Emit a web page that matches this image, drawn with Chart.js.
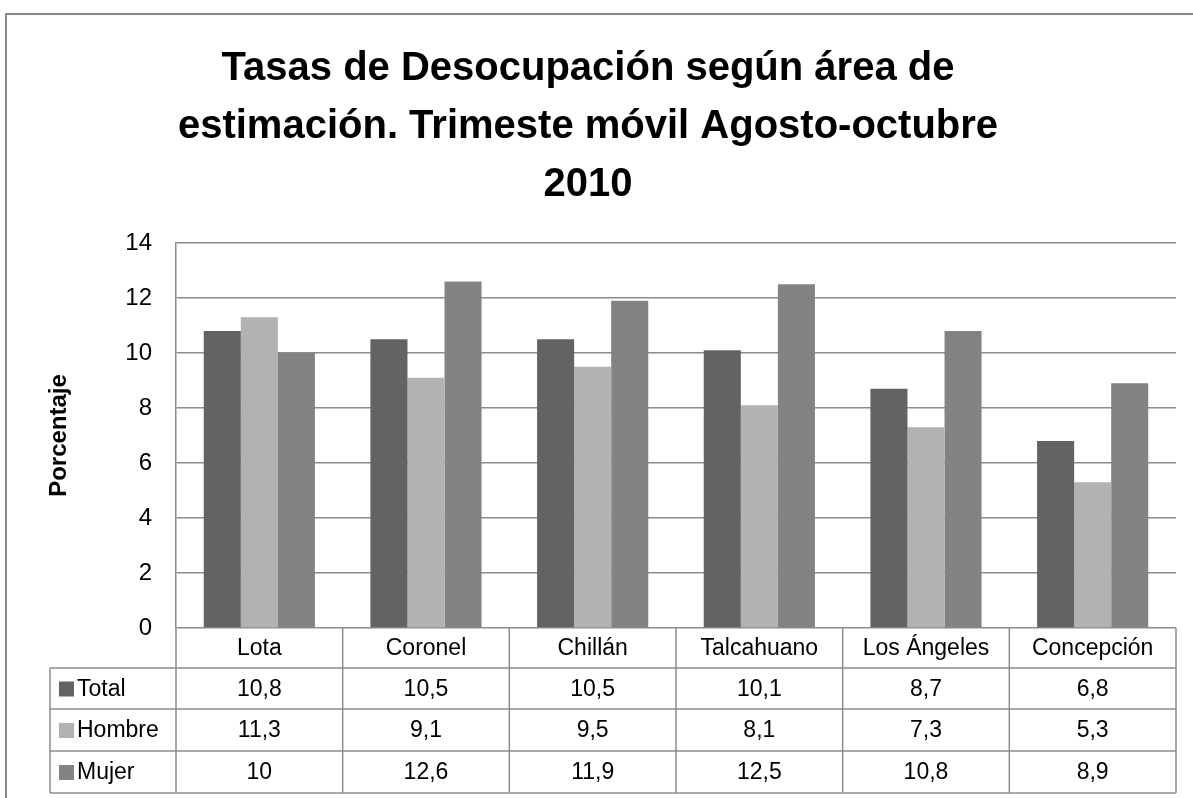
<!DOCTYPE html>
<html lang="es">
<head>
    <meta charset="UTF-8">
    <title>Tasas de Desocupación según área de estimación</title>
    <script src="https://cdn.jsdelivr.net/npm/chart.js"></script>
    <style>
        body {
            margin: 0;
            background-color: #fff;
        }

        #wrap {
            width: 1193px;
            height: 798px;
        }
    </style>
</head>
<body>

    <div id="wrap"><canvas id="myChart"></canvas></div>

    <script>
        // chart data
        var categories = ['Lota', 'Coronel', 'Chillán', 'Talcahuano', 'Los Ángeles', 'Concepción'];
        var seriesNames = ['Total', 'Hombre', 'Mujer'];
        var totalValues = [10.8, 10.5, 10.5, 10.1, 8.7, 6.8];
        var hombreValues = [11.3, 9.1, 9.5, 8.1, 7.3, 5.3];
        var mujerValues = [10, 12.6, 11.9, 12.5, 10.8, 8.9];
        var yTicks = [0, 2, 4, 6, 8, 10, 12, 14];

        var seriesColors = ['#636363', '#b2b2b2', '#838383'];
        var lineColor = '#8c8c8c';
        var fontFamily = "'Liberation Sans', Arial, sans-serif";

        // data table drawn under the plot, columns follow the x scale
        var dataTable = {
            id: 'dataTable',
            beforeDraw: function (chart) {
                var ctx = chart.ctx;
                ctx.save();
                ctx.strokeStyle = '#888';
                ctx.lineWidth = 2;
                ctx.beginPath();
                ctx.moveTo(6, 798);
                ctx.lineTo(6, 14);
                ctx.lineTo(1193, 14);
                ctx.stroke();
                ctx.restore();
            },
            afterDraw: function (chart) {
                var ctx = chart.ctx;
                var area = chart.chartArea;
                var xScale = chart.scales.x;
                var colW = (area.right - area.left) / categories.length;
                var tableLeft = 50;
                var rowLines = [area.bottom, area.bottom + 40, area.bottom + 81, area.bottom + 123, area.bottom + 165];
                var rows = [totalValues, hombreValues, mujerValues];

                ctx.save();
                ctx.strokeStyle = lineColor;
                ctx.lineWidth = 1.5;
                ctx.beginPath();
                // column separators
                for (var i = 0; i <= categories.length; i++) {
                    var cx = i < categories.length ? xScale.getPixelForValue(i) - colW / 2 : xScale.getPixelForValue(i - 1) + colW / 2;
                    ctx.moveTo(cx, rowLines[0]);
                    ctx.lineTo(cx, rowLines[4]);
                }
                ctx.moveTo(tableLeft, rowLines[1]);
                ctx.lineTo(tableLeft, rowLines[4]);
                for (var r = 1; r < rowLines.length; r++) {
                    ctx.moveTo(tableLeft, rowLines[r]);
                    ctx.lineTo(area.right, rowLines[r]);
                }
                ctx.stroke();

                ctx.fillStyle = '#000';
                ctx.font = '23px ' + fontFamily;
                ctx.textAlign = 'center';
                ctx.textBaseline = 'middle';
                categories.forEach(function (c, i) {
                    ctx.fillText(c, xScale.getPixelForValue(i), (rowLines[0] + rowLines[1]) / 2 + 1);
                });

                rows.forEach(function (vals, r) {
                    var cy = (rowLines[r + 1] + rowLines[r + 2]) / 2 + 1;
                    ctx.textAlign = 'center';
                    ctx.fillStyle = '#000';
                    vals.forEach(function (v, i) {
                        ctx.fillText(String(v).replace('.', ','), xScale.getPixelForValue(i), cy);
                    });
                    // legend key
                    ctx.fillStyle = seriesColors[r];
                    ctx.fillRect(tableLeft + 9, cy - 8, 15, 15);
                    ctx.fillStyle = '#000';
                    ctx.textAlign = 'left';
                    ctx.fillText(seriesNames[r], tableLeft + 27, cy);
                });
                ctx.restore();
            }
        };

        var ctx = document.getElementById('myChart').getContext('2d');

        var myChart = new Chart(ctx, {
            type: 'bar',
            data: {
                labels: categories,
                datasets: [
                    { label: seriesNames[0], data: totalValues, backgroundColor: seriesColors[0] },
                    { label: seriesNames[1], data: hombreValues, backgroundColor: seriesColors[1] },
                    { label: seriesNames[2], data: mujerValues, backgroundColor: seriesColors[2] }
                ]
            },
            options: {
                responsive: true,
                maintainAspectRatio: false,
                animation: false,
                layout: {
                    padding: { left: 0, top: 0, right: 17, bottom: 170 }
                },
                datasets: {
                    bar: {
                        categoryPercentage: 0.667,
                        barPercentage: 1.0
                    }
                },
                scales: {
                    x: {
                        display: false
                    },
                    y: {
                        min: 0,
                        max: 14,
                        afterFit: function (scale) {
                            scale.width = 176;
                        },
                        afterBuildTicks: function (scale) {
                            scale.ticks = yTicks.map(function (v) { return { value: v }; });
                        },
                        grid: {
                            color: lineColor,
                            lineWidth: 1.5,
                            drawTicks: false
                        },
                        border: {
                            color: lineColor,
                            width: 1.5
                        },
                        ticks: {
                            color: '#000',
                            padding: 24,
                            font: { family: fontFamily, size: 24 }
                        },
                        title: {
                            display: true,
                            text: 'Porcentaje',
                            color: '#000',
                            padding: { top: 45, bottom: 0 },
                            font: { family: fontFamily, size: 24, weight: 'bold' }
                        }
                    }
                },
                plugins: {
                    legend: { display: false },
                    tooltip: { enabled: false },
                    title: {
                        display: true,
                        text: ['Tasas de Desocupación según área de', 'estimación. Trimeste móvil Agosto-octubre', '2010'],
                        color: '#000',
                        padding: { top: 40, bottom: 29 },
                        font: { family: fontFamily, size: 40, weight: 'bold', lineHeight: 1.45 }
                    }
                }
            },
            plugins: [dataTable]
        });
    </script>
</body>
</html>
